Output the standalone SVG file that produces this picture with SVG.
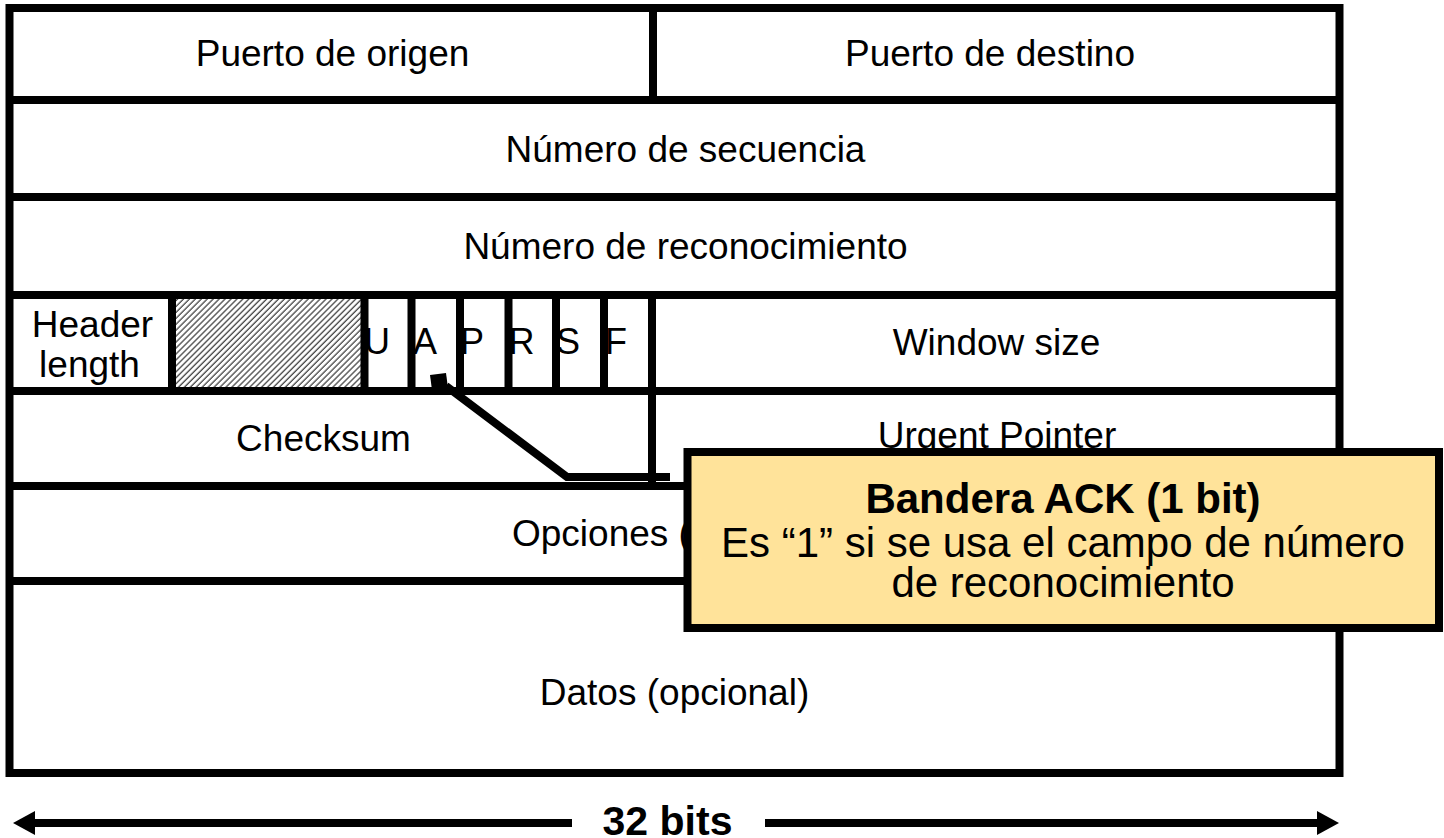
<svg xmlns="http://www.w3.org/2000/svg" width="1444" height="838" viewBox="0 0 1444 838">
<defs>
<style>
.t{font-family:"Liberation Sans",Arial,sans-serif;font-size:37px;fill:#000;text-anchor:middle}
.f{font-family:"Liberation Sans",Arial,sans-serif;font-size:36px;fill:#000}
.b{font-family:"Liberation Sans",Arial,sans-serif;font-size:42px;fill:#000;text-anchor:middle}
.ln{stroke:#000;stroke-width:8;fill:none}
</style>
<pattern id="hatch" width="4.2" height="4.2" patternUnits="userSpaceOnUse" patternTransform="rotate(45)">
<rect width="4.2" height="4.2" fill="#fff"/>
<line x1="1" y1="0" x2="1" y2="4.2" stroke="#444" stroke-width="1.3"/>
</pattern>
<marker id="ah" viewBox="0 0 10 10" refX="0" refY="5" markerWidth="22" markerHeight="24" markerUnits="userSpaceOnUse" orient="auto" preserveAspectRatio="none">
<path d="M0,0 L10,5 L0,10 z" fill="#000"/>
</marker>
</defs>
<rect width="1444" height="838" fill="#fff"/>

<g id="frame">
<rect x="9.5" y="8" width="1330" height="765" class="ln"/>
<line x1="9" y1="100" x2="1340" y2="100" class="ln"/>
<line x1="9" y1="197" x2="1340" y2="197" class="ln"/>
<line x1="9" y1="295" x2="1340" y2="295" class="ln"/>
<line x1="9" y1="391" x2="1340" y2="391" class="ln"/>
<line x1="9" y1="486" x2="1340" y2="486" class="ln"/>
<line x1="9" y1="581" x2="1340" y2="581" class="ln"/>
</g>

<g id="puerto-origen">
<text class="t" x="332.5" y="66">Puerto de origen</text>
</g>
<g id="puerto-destino">
<line x1="653" y1="8" x2="653" y2="100" class="ln"/>
<text class="t" x="990" y="66">Puerto de destino</text>
</g>
<g id="secuencia">
<text class="t" x="685.5" y="162">Número de secuencia</text>
</g>
<g id="reconocimiento">
<text class="t" x="685.5" y="259">Número de reconocimiento</text>
</g>
<g id="header-length">
<text class="t" x="92.5" y="337">Header</text>
<text class="t" x="89.5" y="377">length</text>
</g>
<g id="reserved">
<rect x="176" y="299" width="185" height="88" fill="url(#hatch)"/>
<line x1="172" y1="295" x2="172" y2="391" class="ln"/>
</g>
<g id="flags">
<text class="f" x="364" y="354">U</text>
<text class="f" x="413" y="354">A</text>
<text class="f" x="460" y="354">P</text>
<text class="f" x="508.5" y="354">R</text>
<text class="f" x="556" y="354">S</text>
<text class="f" x="605" y="354">F</text>
<line x1="364.5" y1="295" x2="364.5" y2="391" class="ln"/>
<line x1="411.5" y1="295" x2="411.5" y2="391" class="ln"/>
<line x1="460" y1="295" x2="460" y2="391" class="ln"/>
<line x1="508.5" y1="295" x2="508.5" y2="391" class="ln"/>
<line x1="556" y1="295" x2="556" y2="391" class="ln"/>
<line x1="604" y1="295" x2="604" y2="391" class="ln"/>
</g>
<g id="window-size">
<line x1="652" y1="295" x2="652" y2="486" class="ln"/>
<text class="t" x="996.5" y="355">Window size</text>
</g>
<g id="checksum">
<text class="t" x="323.5" y="451">Checksum</text>
</g>
<g id="urgent-pointer">
<text class="t" x="997" y="448">Urgent Pointer</text>
</g>
<g id="opciones">
<text class="t" x="512" y="546" style="text-anchor:start">Opciones (</text>
</g>
<g id="datos">
<text class="t" x="674.5" y="705">Datos (opcional)</text>
</g>

<g id="connectors">
<polygon points="430,375 446,373 448,388 432,390" fill="#000"/>
<polyline points="446,386 567,477 670,477" class="ln" stroke-linejoin="miter"/>
<line x1="572" y1="823" x2="35" y2="823" class="ln" marker-end="url(#ah)"/>
<line x1="765" y1="823" x2="1317" y2="823" class="ln" marker-end="url(#ah)"/>
</g>

<g id="callout">
<rect x="687.5" y="452" width="751.5" height="176" fill="#FFE39A" stroke="#000" stroke-width="8"/>
<text class="b" x="1063" y="513" font-weight="bold">Bandera ACK (1 bit)</text>
<text class="b" x="1063" y="557">Es “1” si se usa el campo de número</text>
<text class="b" x="1063" y="597">de reconocimiento</text>
</g>

<g id="width-label">
<text x="667.5" y="835" font-family="'Liberation Sans',Arial,sans-serif" font-size="41" font-weight="bold" text-anchor="middle">32 bits</text>
</g>
</svg>
